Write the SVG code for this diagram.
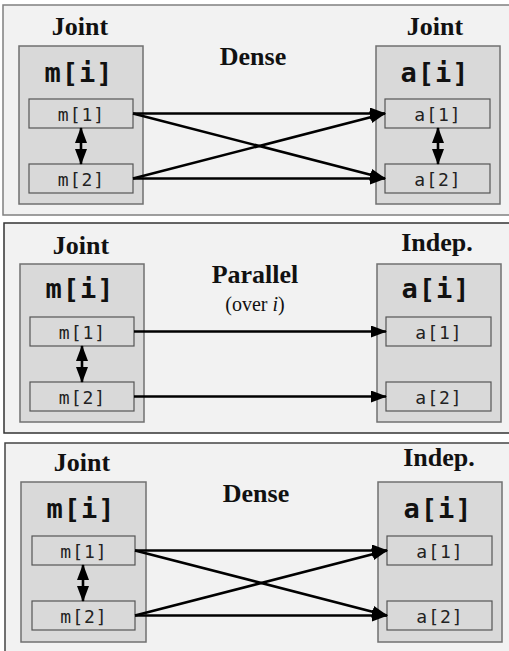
<svg xmlns="http://www.w3.org/2000/svg" width="509" height="651" viewBox="0 0 509 651">
  <style>
    .panel { fill: #f2f2f2; stroke-width: 1.5; }
    .group { fill: #d9d9d9; stroke: #707070; stroke-width: 1.5; }
    .cell { fill: #d9d9d9; stroke: #555555; stroke-width: 1.2; }
    .head { font-family: "Liberation Serif", "DejaVu Serif", serif; font-weight: bold; font-size: 26px; fill: #111; text-anchor: middle; }
    .sub { font-family: "Liberation Serif", "DejaVu Serif", serif; font-size: 20px; fill: #111; text-anchor: middle; }
    .var { font-family: "DejaVu Sans Mono", "Liberation Mono", monospace; font-weight: bold; font-size: 27px; letter-spacing: 1px; fill: #111; text-anchor: middle; }
    .idx { font-family: "DejaVu Sans Mono", "Liberation Mono", monospace; font-size: 18px; letter-spacing: 1px; fill: #222; text-anchor: middle; }
    .edge { fill: none; stroke: #000; stroke-width: 2.6; marker-end: url(#tip); }
    .link { fill: none; stroke: #000; stroke-width: 2.6; marker-start: url(#tip); marker-end: url(#tip); }
  </style>
  <defs>
    <marker id="tip" markerUnits="userSpaceOnUse" markerWidth="16" markerHeight="12" refX="15" refY="6" orient="auto-start-reverse" viewBox="0 0 16 12">
      <path d="M0,0 L16,6 L0,12 z" fill="#000"/>
    </marker>
  </defs>

  <rect width="509" height="651" fill="#ffffff"/>

  <!-- Panel 1: joint -> joint, dense -->
  <g id="panel-1">
    <rect class="panel" x="3" y="5" width="530" height="210" stroke="#808080"/>
    <text class="head" x="253" y="65">Dense</text>
  </g>
  <g id="p1-m">
    <rect class="group" x="19" y="46" width="124" height="158"/>
    <text class="head" x="80" y="35">Joint</text>
    <text class="var" x="79" y="82">m[i]</text>
  </g>
  <g id="p1-m1"><rect class="cell" x="29" y="99" width="104" height="29"/><text class="idx" x="81.5" y="121">m[1]</text></g>
  <g id="p1-m2"><rect class="cell" x="29" y="164" width="104" height="29"/><text class="idx" x="81.5" y="186">m[2]</text></g>
  <g id="p1-a">
    <rect class="group" x="376" y="46" width="124" height="158"/>
    <text class="head" x="435" y="35">Joint</text>
    <text class="var" x="435" y="82">a[i]</text>
  </g>
  <g id="p1-a1"><rect class="cell" x="385" y="99" width="105" height="29"/><text class="idx" x="438" y="121">a[1]</text></g>
  <g id="p1-a2"><rect class="cell" x="385" y="164" width="105" height="29"/><text class="idx" x="438" y="186">a[2]</text></g>

  <!-- Panel 2: joint -> independent, parallel over i -->
  <g id="panel-2">
    <rect class="panel" x="4" y="223" width="530" height="210" stroke="#333333"/>
    <text class="head" x="255" y="283">Parallel</text>
    <text class="sub" x="255" y="311">(over <tspan font-style="italic">i</tspan>)</text>
  </g>
  <g id="p2-m">
    <rect class="group" x="20" y="264" width="124" height="158"/>
    <text class="head" x="81" y="254">Joint</text>
    <text class="var" x="80" y="298">m[i]</text>
  </g>
  <g id="p2-m1"><rect class="cell" x="30" y="317" width="104" height="29"/><text class="idx" x="82.5" y="339">m[1]</text></g>
  <g id="p2-m2"><rect class="cell" x="30" y="382" width="104" height="29"/><text class="idx" x="82.5" y="404">m[2]</text></g>
  <g id="p2-a">
    <rect class="group" x="377" y="264" width="124" height="158"/>
    <text class="head" x="437" y="251">Indep.</text>
    <text class="var" x="436" y="298">a[i]</text>
  </g>
  <g id="p2-a1"><rect class="cell" x="386" y="317" width="105" height="29"/><text class="idx" x="439" y="339">a[1]</text></g>
  <g id="p2-a2"><rect class="cell" x="386" y="382" width="105" height="29"/><text class="idx" x="439" y="404">a[2]</text></g>

  <!-- Panel 3: joint -> independent, dense -->
  <g id="panel-3">
    <rect class="panel" x="5" y="443" width="530" height="220" stroke="#444444"/>
    <text class="head" x="256" y="502">Dense</text>
  </g>
  <g id="p3-m">
    <rect class="group" x="21" y="482" width="125" height="160"/>
    <text class="head" x="82" y="471">Joint</text>
    <text class="var" x="81" y="518">m[i]</text>
  </g>
  <g id="p3-m1"><rect class="cell" x="32" y="536" width="103" height="29"/><text class="idx" x="84" y="558">m[1]</text></g>
  <g id="p3-m2"><rect class="cell" x="32" y="601" width="103" height="29"/><text class="idx" x="84" y="623">m[2]</text></g>
  <g id="p3-a">
    <rect class="group" x="378" y="482" width="124" height="160"/>
    <text class="head" x="439" y="466">Indep.</text>
    <text class="var" x="438" y="518">a[i]</text>
  </g>
  <g id="p3-a1"><rect class="cell" x="387" y="536" width="105" height="29"/><text class="idx" x="440" y="558">a[1]</text></g>
  <g id="p3-a2"><rect class="cell" x="387" y="601" width="105" height="29"/><text class="idx" x="440" y="623">a[2]</text></g>

  <!-- Connectors -->
  <g id="connectors">
    <!-- panel 1 -->
    <path class="edge" d="M133,113.5 L385,113.5"/>
    <path class="edge" d="M133,113.5 L385,178.5"/>
    <path class="edge" d="M133,178.5 L385,113.5"/>
    <path class="edge" d="M133,178.5 L385,178.5"/>
    <path class="link" d="M81,128 L81,164"/>
    <path class="link" d="M438,128 L438,164"/>
    <!-- panel 2 -->
    <path class="edge" d="M134,331.5 L386,331.5"/>
    <path class="edge" d="M134,396.5 L386,396.5"/>
    <path class="link" d="M82,346 L82,382"/>
    <!-- panel 3 -->
    <path class="edge" d="M135,550.5 L387,550.5"/>
    <path class="edge" d="M135,550.5 L387,615.5"/>
    <path class="edge" d="M135,615.5 L387,550.5"/>
    <path class="edge" d="M135,615.5 L387,615.5"/>
    <path class="link" d="M83,565 L83,601"/>
  </g>
</svg>
